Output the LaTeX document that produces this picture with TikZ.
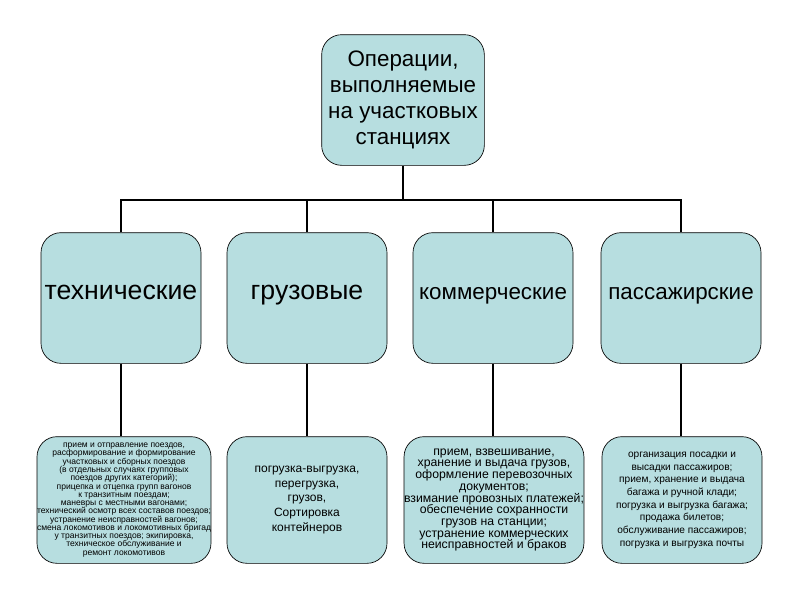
\documentclass[tikz,border=0pt]{standalone}
\usepackage{fontspec}
\setmainfont{Liberation Sans}
\usepackage{xcolor}
\definecolor{boxfill}{RGB}{183, 222, 224}
\usepackage{tikz}
\usetikzlibrary{calc}

\newcommand\tinylist{\fontsize{6.4}{6.2}\selectfont\lineskiplimit=-3pt\lineskip=0pt\relax}

\tikzset{
  opbox/.style = {
    draw          = black,
    line width    = 0.5pt,
    fill          = boxfill,
    rounded corners = 15pt,
    minimum width = 120pt,
    align         = center,
    inner sep     = 0pt
  },
  kindbox/.style = {
    opbox,
    minimum height = 98pt,
    text height    = 0.6em,
    text depth     = 0.35em
  },
  wire/.style = {
    draw       = black,
    line width = 1.5pt
  }
}

\begin{document}
\begin{tikzpicture}[x=0.75pt, y=-0.75pt]
  \useasboundingbox (0,0) rectangle (800,600);

  % top box
  \node[opbox, minimum width = 122pt, minimum height = 98pt,
        font = \fontsize{16.8}{19.3}\selectfont] (top) at (403,100)
    {Операции,\\выполняемые\\на участковых\\станциях};

  % kinds of operations
  \node[kindbox, font = \fontsize{20}{24}\selectfont]
    (tech) at (121,298) {технические};
  \node[kindbox, font = \fontsize{20}{24}\selectfont]
    (gruz) at (307,298) {грузовые};
  \node[kindbox, font = \fontsize{16.8}{22}\selectfont]
    (komm) at (493,298) {коммерческие};
  \node[kindbox, font = \fontsize{16.8}{22}\selectfont]
    (pass) at (681,298) {пассажирские};

  % lists of operations
  \node[opbox, minimum height = 95pt, font = \tinylist]
    (techlist) at (124,500)
    {прием и отправление поездов,\\
     расформирование и формирование\\
     участковых и сборных поездов\\
     (в отдельных случаях групповых\\
     поездов других категорий);\\
     прицепка и отцепка групп вагонов\\
     к транзитным поездам;\\
     маневры с местными вагонами;\\
     технический осмотр всех составов поездов;\\
     устранение неисправностей вагонов;\\
     смена локомотивов и локомотивных бригад\\
     у транзитных поездов; экипировка,\\
     техническое обслуживание и\\
     ремонт локомотивов};
  \node[opbox, minimum height = 95pt, font = \fontsize{9}{11}\selectfont]
    (gruzlist) at (307,500)
    {погрузка-выгрузка,\\
     перегрузка,\\
     грузов,\\
     Сортировка\\
     контейнеров};
  \node[opbox, minimum height = 95pt, font = \fontsize{9.2}{8.8}\selectfont]
    (kommlist) at (494,500)
    {прием, взвешивание,\\
     хранение и выдача грузов,\\
     оформление перевозочных\\
     документов;\\
     взимание провозных платежей;\\
     обеспечение сохранности\\
     грузов на станции;\\
     устранение коммерческих\\
     неисправностей и браков};
  \node[opbox, minimum height = 95pt, font = \fontsize{7.6}{9.5}\selectfont]
    (passlist) at (682,500)
    {организация посадки и\\
     высадки пассажиров;\\
     прием, хранение и выдача\\
     багажа и ручной клади;\\
     погрузка и выгрузка багажа;\\
     продажа билетов;\\
     обслуживание пассажиров;\\
     погрузка и выгрузка почты};

  % connectors
  \coordinate (bus) at (401,200);
  \draw[wire] (top.south) -- (top.south |- bus);
  \draw[wire] (tech.north) -- (tech.north |- bus) -- (pass.north |- bus) -- (pass.north);
  \draw[wire] (gruz.north) -- (gruz.north |- bus);
  \draw[wire] (komm.north) -- (komm.north |- bus);
  \draw[wire] (tech.south) -- (tech.south |- techlist.north);
  \draw[wire] (gruz.south) -- (gruz.south |- gruzlist.north);
  \draw[wire] (komm.south) -- (komm.south |- kommlist.north);
  \draw[wire] (pass.south) -- (pass.south |- passlist.north);
\end{tikzpicture}
\end{document}
